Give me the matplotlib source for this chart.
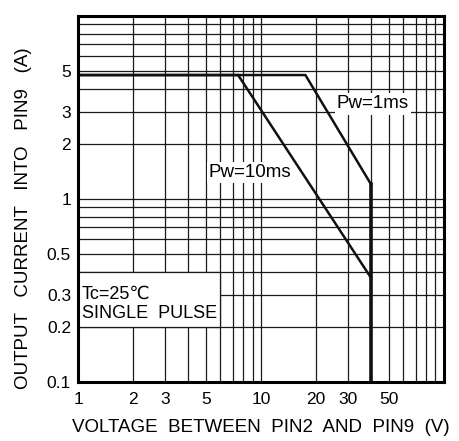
import matplotlib
matplotlib.use("Agg")
import matplotlib.pyplot as plt
from matplotlib.patches import Rectangle
from matplotlib.ticker import LogLocator, NullFormatter, FixedLocator, FixedFormatter

plt.rcParams['font.family'] = ['Liberation Sans', 'DejaVu Sans', 'Noto Sans CJK JP']

# safe operating area curves
v_1ms = [1, 17.5, 40]
i_1ms = [4.75, 4.75, 1.2]
v_10ms = [1, 7.5, 40]
i_10ms = [4.75, 4.75, 0.37]

x_ticks = [1, 2, 3, 5, 10, 20, 30, 50]
x_labels = ["1", "2", "3", "5", "10", "20", "30", "50"]
y_ticks = [0.1, 0.2, 0.3, 0.5, 1, 2, 3, 5]
y_labels = ["0.1", "0.2", "0.3", "0.5", "1", "2", "3", "5"]

fig = plt.figure(figsize=(4.59, 4.41), dpi=100)
ax = fig.add_axes([0.170, 0.134, 0.797, 0.830])

ax.set_xscale("log")
ax.set_yscale("log")
ax.set_xlim(1, 100)
ax.set_ylim(0.1, 10)

# full log grid, major and minor, all thin black
ax.xaxis.set_minor_locator(LogLocator(base=10, subs=range(2, 10)))
ax.yaxis.set_minor_locator(LogLocator(base=10, subs=range(2, 10)))
ax.xaxis.set_minor_formatter(NullFormatter())
ax.yaxis.set_minor_formatter(NullFormatter())
ax.grid(True, which="both", color="#1a1a1a", lw=0.9, zorder=0)
ax.set_axisbelow(True)

ax.xaxis.set_major_locator(FixedLocator(x_ticks))
ax.xaxis.set_major_formatter(FixedFormatter(x_labels))
ax.yaxis.set_major_locator(FixedLocator(y_ticks))
ax.yaxis.set_major_formatter(FixedFormatter(y_labels))
ax.tick_params(which="both", length=0, labelsize=12.5, pad=5)
ax.tick_params(axis="x", pad=7)

for s in ax.spines.values():
    s.set_linewidth(2.2)
    s.set_zorder(5)

# note box in the lower left corner (hides the grid inside)
ax.add_patch(Rectangle((1, 0.2), 5, 0.2, facecolor="white", edgecolor="#1a1a1a",
                       lw=0.9, zorder=2))
ax.text(1.05, 0.303, "Tc=25\u2103", fontsize=13, va="center", ha="left", zorder=3)
ax.text(1.05, 0.236, "SINGLE  PULSE", fontsize=13, va="center", ha="left", zorder=3)

ax.plot(v_1ms, i_1ms, color="#111111", lw=1.8, zorder=4, solid_joinstyle="miter")
ax.plot(v_10ms, i_10ms, color="#111111", lw=1.8, zorder=4, solid_joinstyle="miter")
ax.plot([v_1ms[-1], v_1ms[-1]], [i_1ms[-1], 0.1], color="#111111", lw=2.6, zorder=4)

box = dict(facecolor="white", edgecolor="none", pad=1.5)
ax.text(41, 3.3, "Pw=1ms", fontsize=13.5, ha="center", va="center", bbox=box, zorder=3)
ax.text(8.7, 1.40, "Pw=10ms", fontsize=13.5, ha="center", va="center", bbox=box, zorder=3)

ax.set_xlabel("VOLTAGE  BETWEEN  PIN2  AND  PIN9  (V)", fontsize=13.5, labelpad=9)
ax.set_ylabel("OUTPUT   CURRENT   INTO   PIN9   (A)", fontsize=13.5, labelpad=12)
ax.yaxis.set_label_coords(-0.125, 0.448)

fig.savefig("out.png", dpi=100)
